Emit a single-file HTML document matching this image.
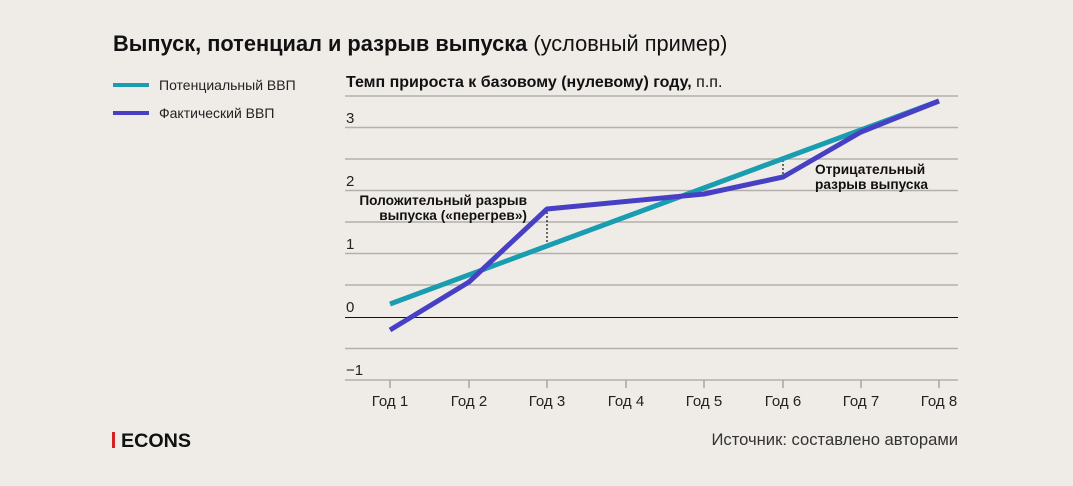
<!DOCTYPE html>
<html><head><meta charset="utf-8"><style>
html,body{margin:0;padding:0;background:#efece7;}
body{width:1073px;height:481px;overflow:hidden;font-family:"Liberation Sans",sans-serif;}
</style></head><body>
<svg width="1073" height="481" viewBox="0 0 1073 481" xmlns="http://www.w3.org/2000/svg" font-family="Liberation Sans, sans-serif">
<rect width="1073" height="481" fill="#efece7"/>
<text x="113" y="51" font-size="21.8" font-weight="bold" fill="#111">Выпуск, потенциал и разрыв выпуска <tspan font-weight="normal">(условный пример)</tspan></text>
<line x1="113" y1="85" x2="149" y2="85" stroke="#1a9db0" stroke-width="4"/>
<text x="159" y="90" font-size="14" fill="#222">Потенциальный ВВП</text>
<line x1="113" y1="113" x2="149" y2="113" stroke="#4840c4" stroke-width="4"/>
<text x="159" y="118" font-size="14" fill="#222">Фактический ВВП</text>
<text x="346" y="87" font-size="16" fill="#111"><tspan font-weight="bold">Темп прироста к базовому (нулевому) году,</tspan> п.п.</text>
<g stroke="#b3b0ab" stroke-width="1.5">
<line x1="345" y1="96" x2="958" y2="96"/>
<line x1="345" y1="127.5" x2="958" y2="127.5"/>
<line x1="345" y1="159" x2="958" y2="159"/>
<line x1="345" y1="190.5" x2="958" y2="190.5"/>
<line x1="345" y1="222" x2="958" y2="222"/>
<line x1="345" y1="253.5" x2="958" y2="253.5"/>
<line x1="345" y1="285" x2="958" y2="285"/>
<line x1="345" y1="348.5" x2="958" y2="348.5"/>
<line x1="345" y1="380" x2="958" y2="380"/>
</g>
<line x1="345" y1="317.5" x2="958" y2="317.5" stroke="#111" stroke-width="1"/>
<g stroke="#a8a5a0" stroke-width="1.5">
<line x1="390" y1="380" x2="390" y2="388"/><line x1="469" y1="380" x2="469" y2="388"/>
<line x1="547" y1="380" x2="547" y2="388"/><line x1="626" y1="380" x2="626" y2="388"/>
<line x1="704" y1="380" x2="704" y2="388"/><line x1="783" y1="380" x2="783" y2="388"/>
<line x1="861" y1="380" x2="861" y2="388"/><line x1="939" y1="380" x2="939" y2="388"/>
</g>
<g font-size="15" fill="#222">
<text x="346" y="123">3</text><text x="346" y="186">2</text><text x="346" y="249">1</text>
<text x="346" y="312">0</text><text x="346" y="375">−1</text>
</g>
<g font-size="15" fill="#222" text-anchor="middle">
<text x="390" y="406">Год 1</text><text x="469" y="406">Год 2</text><text x="547" y="406">Год 3</text>
<text x="626" y="406">Год 4</text><text x="704" y="406">Год 5</text><text x="783" y="406">Год 6</text>
<text x="861" y="406">Год 7</text><text x="939" y="406">Год 8</text>
</g>
<line x1="547" y1="212" x2="547" y2="245" stroke="#222" stroke-width="1.3" stroke-dasharray="2,2"/>
<line x1="783" y1="160" x2="783" y2="176" stroke="#222" stroke-width="1.3" stroke-dasharray="2,2"/>
<polyline points="390,304 939,101" fill="none" stroke="#1a9db0" stroke-width="5"/>
<polyline points="390,330 469,282 547,209 704,194 783,177 861,132 939,101" fill="none" stroke="#4840c4" stroke-width="5" stroke-linejoin="round"/>
<g font-size="13.7" font-weight="bold" fill="#111">
<text x="527" y="205" text-anchor="end">Положительный разрыв</text>
<text x="527" y="220" text-anchor="end">выпуска («перегрев»)</text>
<text x="815" y="174">Отрицательный</text>
<text x="815" y="189">разрыв выпуска</text>
</g>
<rect x="112" y="432" width="3" height="16" fill="#d42020"/>
<text x="121" y="447" font-size="19.7" font-weight="bold" fill="#111">ECONS</text>
<text x="958" y="445" font-size="16.6" fill="#333" text-anchor="end">Источник: составлено авторами</text>
</svg>
</body></html>
